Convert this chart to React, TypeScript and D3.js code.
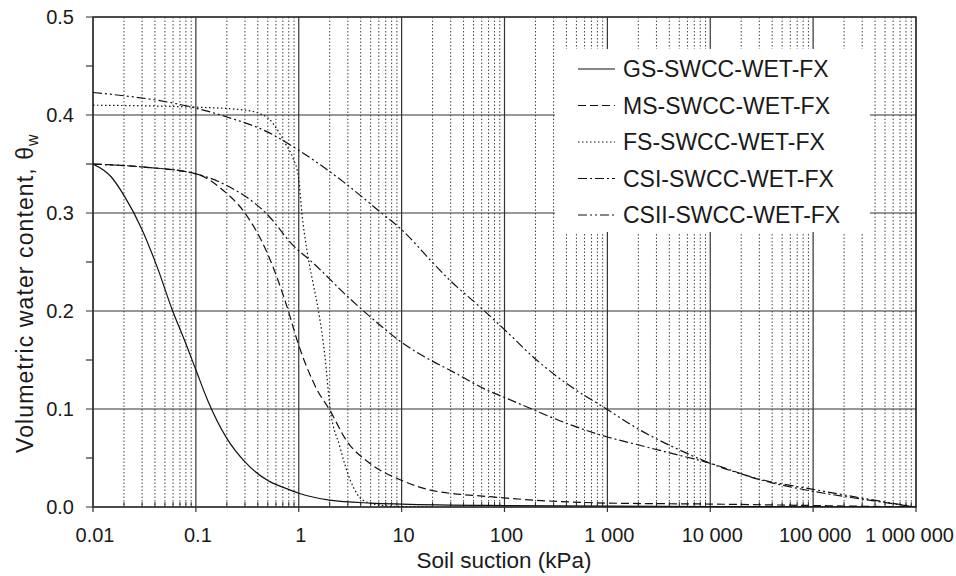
import React from "react";
import * as d3 from "d3";

const W = 956;
const H = 576;
const M = { left: 93, right: 916, top: 17, bottom: 507 };

const xTickValues = [0.01, 0.1, 1, 10, 100, 1000, 10000, 100000, 1000000];
const xTickLabels = ["0.01", "0.1", "1", "10", "100", "1 000", "10 000", "100 000", "1 000 000"];
const yTickValues = [0, 0.1, 0.2, 0.3, 0.4, 0.5];
const yTickLabels = ["0.0", "0.1", "0.2", "0.3", "0.4", "0.5"];

const seriesNames = ["GS-SWCC-WET-FX", "MS-SWCC-WET-FX", "FS-SWCC-WET-FX", "CSI-SWCC-WET-FX", "CSII-SWCC-WET-FX"];

const gsSuction = [0.01, 0.015, 0.02, 0.03, 0.042, 0.06, 0.075, 0.1, 0.13, 0.2, 0.3, 0.5, 0.75, 1, 2, 5, 10, 100, 10000, 1000000];
const gsTheta = [0.35, 0.337, 0.318, 0.283, 0.245, 0.199, 0.174, 0.14, 0.109, 0.07, 0.046, 0.027, 0.019, 0.014, 0.007, 0.004, 0.003, 0.0015, 0.0005, 0];

const msSuction = [0.01, 0.03, 0.1, 0.185, 0.29, 0.5, 0.76, 1, 1.5, 2, 2.9, 4.9, 9.8, 19, 72, 1000, 10000, 100000, 1000000];
const msTheta = [0.35, 0.347, 0.34, 0.323, 0.302, 0.258, 0.206, 0.165, 0.12, 0.099, 0.068, 0.0446, 0.0276, 0.0173, 0.0105, 0.004, 0.003, 0.0015, 0];

const fsSuction = [0.01, 0.1, 0.3, 0.5, 0.61, 0.75, 0.88, 1.0, 1.07, 1.2, 1.38, 1.55, 1.8, 2.0, 2.5, 3.15, 4.2, 6, 10, 20];
const fsTheta = [0.41, 0.408, 0.405, 0.397, 0.386, 0.37, 0.356, 0.335, 0.301, 0.262, 0.228, 0.201, 0.153, 0.104, 0.062, 0.028, 0.007, 0.002, 0.0005, 0];

const csiSuction = [0.01, 0.03, 0.1, 0.2, 0.5, 0.88, 1.38, 2.9, 6.1, 10, 19, 29, 72, 96, 177, 401, 980, 2070, 3600, 10000, 30000, 100000, 300000, 1000000];
const csiTheta = [0.35, 0.347, 0.34, 0.328, 0.298, 0.267, 0.249, 0.216, 0.186, 0.168, 0.15, 0.14, 0.118, 0.1126, 0.1007, 0.0854, 0.0717, 0.063, 0.0565, 0.0446, 0.028, 0.016, 0.008, 0];

const csiiSuction = [0.01, 0.1, 0.2, 0.49, 1, 2.7, 6.2, 10, 19, 29, 58, 100, 205, 401, 980, 2070, 5070, 10000, 30000, 100000, 480000, 1000000];
const csiiTheta = [0.423, 0.407, 0.398, 0.383, 0.364, 0.332, 0.301, 0.283, 0.252, 0.232, 0.204, 0.181, 0.15, 0.126, 0.1, 0.0786, 0.058, 0.0446, 0.0285, 0.018, 0.0054, 0];

const dashes = ["none", "8,4", "1.5,2.5", "9,3,2,3", "9,3,2,3,2,3"];

const FONT = "'Liberation Sans', Arial, Helvetica, sans-serif";

export default function App() {
  const x = d3.scaleLog().domain([0.01, 1000000]).range([M.left, M.right]);
  const y = d3.scaleLinear().domain([0, 0.5]).range([M.bottom, M.top]);

  const seriesData = [
    [gsSuction, gsTheta],
    [msSuction, msTheta],
    [fsSuction, fsTheta],
    [csiSuction, csiTheta],
    [csiiSuction, csiiTheta],
  ].map(([s, t]) => s.map((v, i) => [v, t[i]] as [number, number]));

  const line = d3
    .line<[number, number]>()
    .x((d) => x(d[0]))
    .y((d) => y(d[1]))
    .curve(d3.curveMonotoneX);

  const minors: number[] = [];
  for (let e = -2; e < 6; e++) {
    for (let k = 2; k <= 9; k++) minors.push(k * Math.pow(10, e));
  }
  const yMinor = [0.05, 0.15, 0.25, 0.35, 0.45];

  const legendX = 578;
  const legendY0 = 69;
  const legendDy = 36.5;

  return (
    <svg width={W} height={H} style={{ display: "block", position: "absolute", left: 0, top: 0 }} fontFamily={FONT}>
      <rect width={W} height={H} fill="#fff" />
      {minors.map((v, i) => (
        <line key={"mg" + i} x1={x(v)} x2={x(v)} y1={M.top} y2={M.bottom} stroke="#444" strokeWidth={1} strokeDasharray="1.5,2" />
      ))}
      {minors.map((v, i) => (
        <line key={"mt" + i} x1={x(v)} x2={x(v)} y1={M.bottom - 5} y2={M.bottom} stroke="#333" strokeWidth={1} />
      ))}
      {xTickValues.map((v, i) => (
        <line key={"vg" + i} x1={x(v)} x2={x(v)} y1={M.top} y2={M.bottom + 5} stroke="#333" strokeWidth={1.2} />
      ))}
      {yTickValues.map((v, i) => (
        <line key={"hg" + i} x1={M.left - 7} x2={M.right} y1={y(v)} y2={y(v)} stroke="#333" strokeWidth={1.2} />
      ))}
      {yMinor.map((v, i) => (
        <line key={"ym" + i} x1={M.left - 7} x2={M.left} y1={y(v)} y2={y(v)} stroke="#333" strokeWidth={1.2} />
      ))}
      <rect x={555} y={49} width={315} height={183} fill="#fff" />
      <rect x={M.left} y={M.top} width={M.right - M.left} height={M.bottom - M.top} fill="none" stroke="#333" strokeWidth={1.5} />
      <defs>
        <clipPath id="plotclip">
          <rect x={M.left} y={M.top - 2} width={M.right - M.left} height={M.bottom - M.top + 2} />
        </clipPath>
      </defs>
      <g clipPath="url(#plotclip)">
        {seriesData.map((d, i) => (
          <path key={"s" + i} d={line(d) || ""} fill="none" stroke="#111" strokeWidth={1.2} strokeDasharray={dashes[i]} />
        ))}
      </g>
      {seriesNames.map((n, i) => (
        <g key={"lg" + i}>
          <line x1={legendX} x2={legendX + 37} y1={legendY0 + i * legendDy} y2={legendY0 + i * legendDy} stroke="#111" strokeWidth={1.2} strokeDasharray={dashes[i]} />
          <text x={623} y={legendY0 + i * legendDy + 8} fontSize={23} fill="#1a1a1a">{n}</text>
        </g>
      ))}
      {yTickValues.map((v, i) => (
        <text key={"yl" + i} x={74} y={y(v) + 7} fontSize={20} textAnchor="end" fill="#1a1a1a">{yTickLabels[i]}</text>
      ))}
      {xTickValues.map((v, i) => (
        <text
          key={"xl" + i}
          x={i === xTickValues.length - 1 ? 954 : x(v) + 2}
          y={542}
          fontSize={20}
          textAnchor={i === xTickValues.length - 1 ? "end" : "middle"}
          fill="#1a1a1a"
        >
          {xTickLabels[i]}
        </text>
      ))}
      <text x={504} y={568} fontSize={22.5} textAnchor="middle" fill="#1a1a1a">Soil suction (kPa)</text>
      <text transform="translate(33,453) rotate(-90)" fontSize={23} letterSpacing={1.1} fill="#1a1a1a">
        Volumetric water content, θ
        <tspan fontSize={16} dy={5}>w</tspan>
      </text>
    </svg>
  );
}
